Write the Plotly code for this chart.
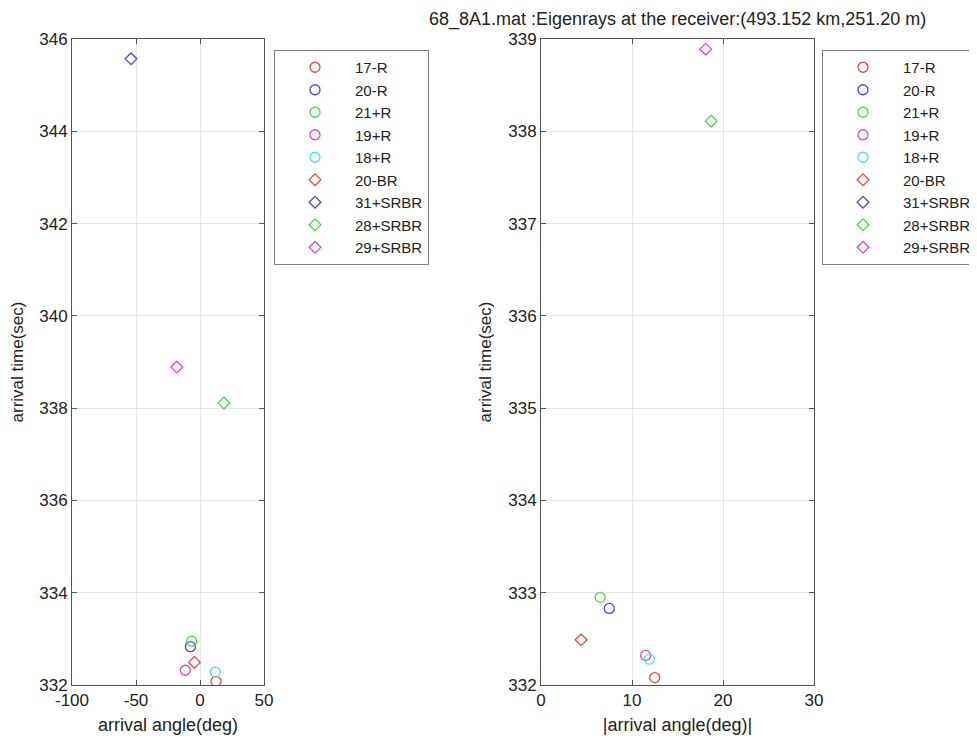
import plotly.graph_objects as go

# Data
names = ["17-R", "20-R", "21+R", "19+R", "18+R", "20-BR", "31+SRBR", "28+SRBR", "29+SRBR"]
angles = [12.5, -7.5, -6.5, -11.5, 11.9, -4.4, -53.9, 18.7, -18.1]
times = [332.08, 332.83, 332.95, 332.32, 332.28, 332.49, 345.57, 338.11, 338.89]
colors = ["#e84848", "#4848d8", "#48d848", "#d848d8", "#48e0e0", "#e84848", "#4848d8", "#48d848", "#d848d8"]
symbols = ["circle-open"] * 5 + ["diamond-open"] * 4

left_xticks = [-100, -50, 0, 50]
left_xticklabels = ["-100", "-50", "0", "50"]
left_yticks = [332, 334, 336, 338, 340, 342, 344, 346]
right_xticks = [0, 10, 20, 30]
right_yticks = [332, 333, 334, 335, 336, 337, 338, 339]

W, H = 977, 739
OFF = 8  # default body margin of the html page
FONT = "Liberation Sans, Arial, sans-serif"
TXT = "#222222"


def px(x):
    return (x - OFF) / W


def py(y):
    return 1 - (y - OFF) / H


fig = go.Figure()
for k, (xa, ya, lg) in enumerate([("x", "y", "legend"), ("x2", "y2", "legend2")]):
    for i, n in enumerate(names):
        ms = 10 if symbols[i].startswith("circle") else 9
        xv = angles[i] if k == 0 else abs(angles[i])
        fig.add_trace(go.Scatter(x=[xv], y=[times[i]], mode="markers", name=n,
                                 marker=dict(symbol=symbols[i], size=ms, color=colors[i],
                                             line=dict(width=1.3, color=colors[i])),
                                 xaxis=xa, yaxis=ya, legend=lg))

ydom = [py(685), py(39)]
axcommon = dict(showgrid=True, gridcolor="#e6e6e6", gridwidth=1, zeroline=False,
                showline=True, linecolor="#555555", linewidth=1, mirror="ticks",
                ticks="inside", ticklen=5, tickcolor="#555555", automargin=False,
                tickfont=dict(family=FONT, size=17, color=TXT))
xtitle_font = dict(family=FONT, size=18, color=TXT)
ytitle_font = dict(family=FONT, size=17, color=TXT)

legcommon = dict(xanchor="left", yanchor="top", y=py(50),
                 bordercolor="#808080", borderwidth=1, bgcolor="white",
                 itemwidth=70, tracegroupgap=0,
                 font=dict(family=FONT, size=15, color=TXT))

fig.update_layout(
    width=W, height=H, margin=dict(l=0, r=0, t=0, b=0, autoexpand=False),
    paper_bgcolor="white", plot_bgcolor="white",
    font=dict(family=FONT, size=16, color=TXT),
    xaxis=dict(domain=[px(72), px(264)], range=[-100, 50], tickvals=left_xticks,
               ticktext=left_xticklabels,
               title=dict(text="arrival angle(deg)", standoff=8, font=xtitle_font),
               anchor="y", **axcommon),
    yaxis=dict(domain=ydom, range=[332, 346], tickvals=left_yticks,
               title=dict(text="arrival time(sec)", standoff=12, font=ytitle_font),
               anchor="x", **axcommon),
    xaxis2=dict(domain=[px(541), px(814)], range=[0, 30], tickvals=right_xticks,
                title=dict(text="|arrival angle(deg)|", standoff=8, font=xtitle_font),
                anchor="y2", **axcommon),
    yaxis2=dict(domain=ydom, range=[332, 339], tickvals=right_yticks,
                title=dict(text="arrival time(sec)", standoff=12, font=ytitle_font),
                anchor="x2", **axcommon),
    legend=dict(x=px(274), **legcommon),
    legend2=dict(x=px(822), **legcommon),
    annotations=[dict(text="68_8A1.mat :Eigenrays at the receiver:(493.152 km,251.20 m)",
                      x=px(677), y=py(19), xref="paper", yref="paper",
                      xanchor="center", yanchor="middle", showarrow=False,
                      font=dict(family=FONT, size=18, color=TXT))],
    showlegend=True,
)

fig.write_html("out.html")
